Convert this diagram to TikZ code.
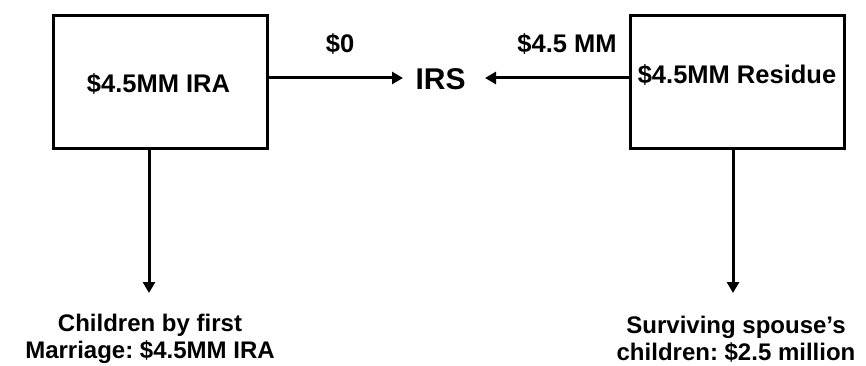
\documentclass[tikz,border=0pt]{standalone}
\usepackage{fontspec}
\setmainfont{Liberation Sans}
\usetikzlibrary{arrows.meta}
\frenchspacing
\begin{document}
\begin{tikzpicture}[x=1pt,y=-1pt,
  every node/.style={font=\bfseries\fontsize{24}{27}\selectfont},
  big/.style={font=\bfseries\fontsize{25.5}{28}\selectfont},
  estate/.style={draw,line width=3pt,minimum width=214pt,minimum height=133pt,inner sep=0pt},
  flow/.style={line width=3pt,-{Triangle[length=11pt,width=12pt]}},
  heir/.style={align=center,inner sep=0pt}]
\useasboundingbox (0,0) rectangle (866,366);
% the two estate boxes and their captions
\node[estate] (ira) at (160.5,82) {};
\node[estate] (res) at (737.5,82) {};
\node[big] (iratext) at (158.5,84) {\$4.5MM IRA};
\node[big] (restext) at (737,75) {\$4.5MM Residue};
% tax collector in the middle
\node[inner sep=0pt,font=\bfseries\fontsize{30}{32}\selectfont] (irs) at (440.5,79) {IRS};
\coordinate (irsin) at (403,78);
\coordinate (irsout) at (485,78);
\draw[flow] (ira.east |- irsin) -- (irsin);
\draw[flow] (res.west |- irsout) -- (irsout);
\node[big] (zero) at (340,44) {\$0};
\node[big] (tax) at (567,44) {\$4.5 MM};
% beneficiaries
\coordinate (lstart) at (149,150);
\coordinate (lend) at (149,293);
\coordinate (rstart) at (733,150);
\coordinate (rend) at (733,293);
\draw[flow] (lstart) -- (lend);
\draw[flow] (rstart) -- (rend);
\node[heir] (kids) at (150,339) {Children by first\\Marriage: \$4.5MM IRA};
\node[heir] (spouse) at (736,339) {Surviving spouse’s\\children: \$2.5 million};
\end{tikzpicture}
\end{document}
